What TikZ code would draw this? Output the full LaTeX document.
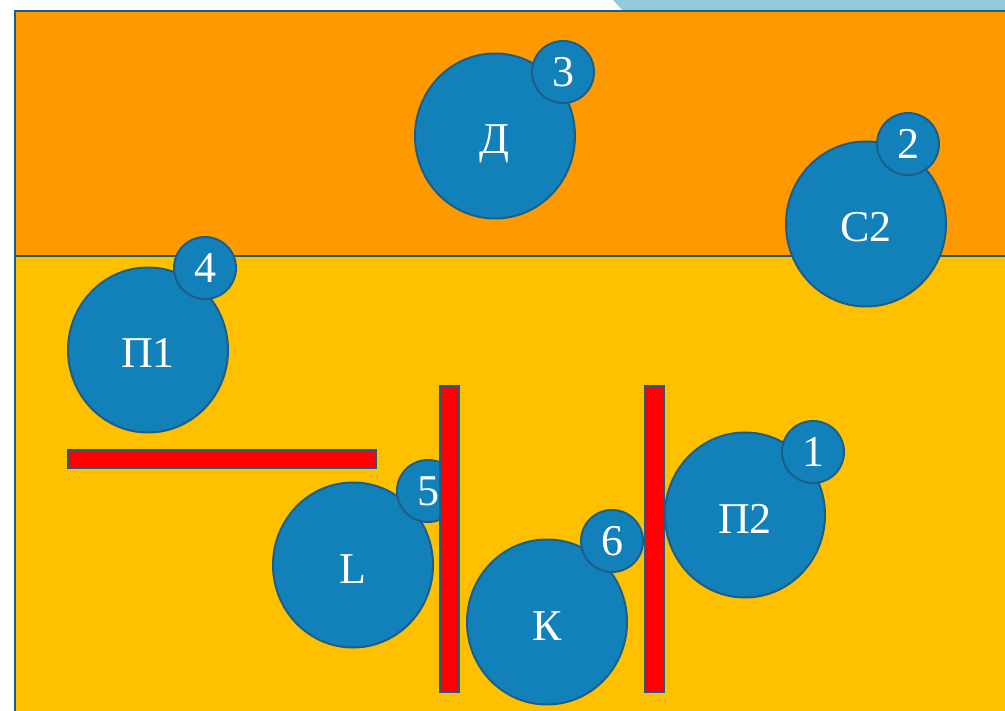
\documentclass[tikz,border=0pt]{standalone}
\usepackage{fontspec}
\setmainfont{Liberation Serif}
\usetikzlibrary{shapes.geometric}
\definecolor{bandorange}{HTML}{FF9900}
\definecolor{fieldyellow}{HTML}{FFC000}
\definecolor{discblue}{HTML}{1281BA}
\definecolor{rimblue}{HTML}{1B5F88}
\definecolor{tabblue}{HTML}{96C9DB}
\begin{document}
\begin{tikzpicture}[x=1pt,y=-1pt]
\tikzset{
  bigdisc/.style={ellipse,draw=rimblue,fill=discblue,line width=2pt,minimum width=160pt,minimum height=165pt,inner sep=0pt,text=white,font=\fontsize{44}{44}\selectfont,text height=36pt,text depth=0pt},
  numdisc/.style={circle,draw=rimblue,fill=discblue,line width=2pt,minimum size=62pt,inner sep=0pt,text=white,font=\fontsize{44}{44}\selectfont,text depth=0pt},
  wall/.style={draw=rimblue,fill=red,line width=1.5pt},
  frameline/.style={draw=rimblue,line width=2.5pt}
}
\useasboundingbox (0,0) rectangle (1005,711);
\fill[white] (0,0) rectangle (1005,711);
% top tab
\fill[tabblue] (613,0) -- (1005,0) -- (1005,11) -- (623,11) -- cycle;
% field
\fill[bandorange] (15,11) rectangle (1005,256);
\fill[fieldyellow] (15,256) rectangle (1005,711);
\draw[frameline] (15,711) -- (15,11) -- (1005,11);
\draw[frameline] (15,256) -- (1005,256);
% discs
\node[bigdisc] (n_D) at (495,136) {Д};
\node[numdisc] (n_3) at (563,72) {3};
\node[bigdisc] (n_C2) at (866,224) {C2};
\node[numdisc] (n_2) at (908,144) {2};
\node[bigdisc] (n_P1) at (148,350) {П1};
\node[numdisc] (n_4) at (205,268) {4};
\node[bigdisc] (n_L) at (353,565) {L};
\node[numdisc] (n_5) at (428,491) {5};
\node[bigdisc] (n_K) at (547,622) {К};
\node[numdisc] (n_6) at (612,541) {6};
\node[bigdisc] (n_P2) at (745,515) {П2};
\node[numdisc] (n_1) at (813,452) {1};
% walls
\draw[wall] (68,450) rectangle (376,468);
\draw[wall] (440,386) rectangle (459,692);
\draw[wall] (645,386) rectangle (664,692);
\end{tikzpicture}
\end{document}
